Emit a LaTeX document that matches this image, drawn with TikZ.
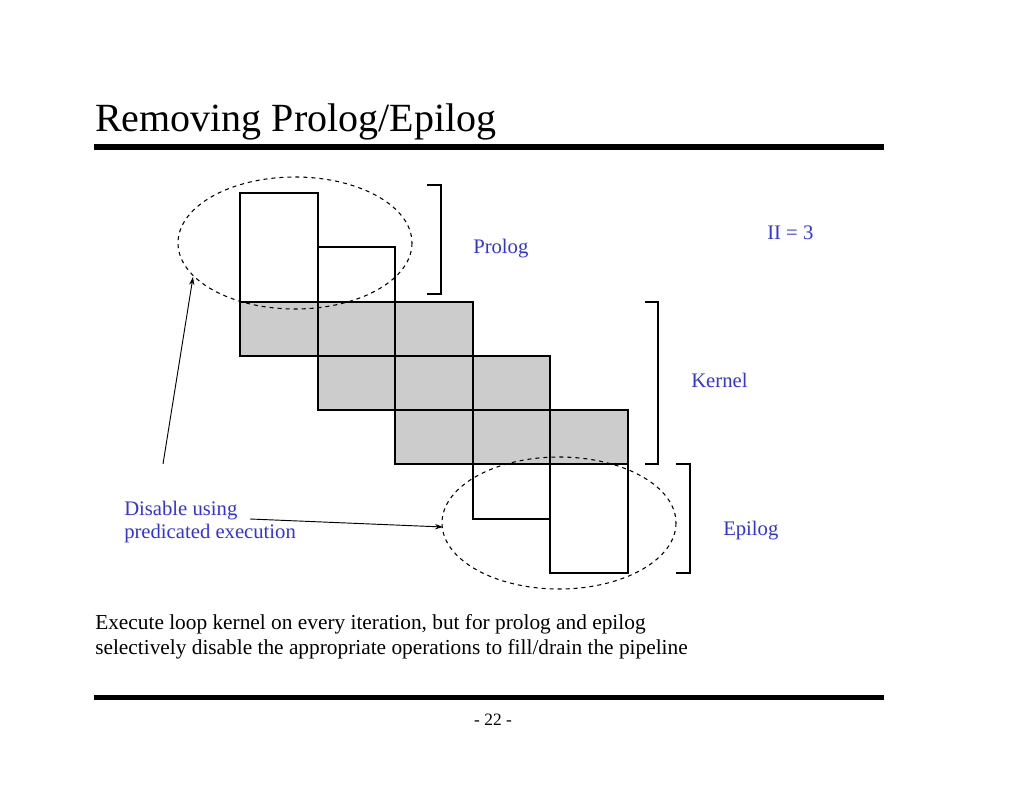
\documentclass[tikz,border=0pt]{standalone}
\usepackage{fontspec}
\setmainfont{Liberation Serif}
\usetikzlibrary{arrows.meta}
\definecolor{lblue}{RGB}{51,51,221}
\begin{document}
\begin{tikzpicture}[x=0.75pt,y=-0.75pt,
  cell/.style={draw,line width=1pt},
  gcell/.style={draw,line width=1pt,fill=black!20},
  ell/.style={draw,dashed,line width=0.8pt},
  brk/.style={draw,line width=1pt},
  lbl/.style={text=lblue,font=\fontsize{15.5}{18}\selectfont,anchor=west,inner sep=0pt},
  body/.style={font=\fontsize{16}{20}\selectfont,anchor=west,inner sep=0pt,align=left},
  arr/.style={draw,line width=0.7pt,-{Stealth[length=6pt,width=4pt]}}]
\useasboundingbox (0,0) rectangle (1024,791);
\node[anchor=west,inner sep=0pt,font=\fontsize{30}{34}\selectfont] (title) at (95,122) {Removing Prolog/Epilog};
\fill (94,144) rectangle (884,150);
% cells
\path[cell] (240,193) rectangle (318,302);
\path[cell] (318,247) rectangle (395,302);
\path[gcell] (240,302) rectangle (318,356);
\path[gcell] (318,302) rectangle (395,356);
\path[gcell] (395,302) rectangle (473,356);
\path[gcell] (318,356) rectangle (395,410);
\path[gcell] (395,356) rectangle (473,410);
\path[gcell] (473,356) rectangle (550,410);
\path[gcell] (395,410) rectangle (473,464);
\path[gcell] (473,410) rectangle (550,464);
\path[gcell] (550,410) rectangle (628,464);
\path[cell] (473,464) rectangle (550,519);
\path[cell] (550,464) rectangle (628,573);
% ellipses
\draw[ell] (295,243) ellipse [x radius=117,y radius=66];
\draw[ell] (559,523) ellipse [x radius=117,y radius=66];
\coordinate (pa) at (193,277);
\coordinate (ea) at (443,527);
% brackets
\path[brk] (427,185) -- (441,185) -- (441,294) -- (427,294);
\path[brk] (645,302) -- (658,302) -- (658,464) -- (645,464);
\path[brk] (676,464) -- (690,464) -- (690,573) -- (676,573);
% labels
\node[lbl] (pl) at (473,249) {Prolog};
\node[lbl] (kl) at (691,380) {Kernel};
\node[lbl] (el) at (723,531) {Epilog};
\node[lbl] (ii) at (767,233) {II = 3};
\node[lbl,align=left,anchor=north west] (dis) at (124,501) {Disable using\\[-1pt]predicated execution};
\coordinate (s1) at (163,464);
\coordinate (s2) at (250,519);
\path[arr] (s1) -- (pa);
\path[arr] (s2) -- (ea);
\node[body,anchor=north west] (bt) at (95,614) {Execute loop kernel on every iteration, but for prolog and epilog\\[-1pt]selectively disable the appropriate operations to fill/drain the pipeline};
\fill (94,695) rectangle (884,700);
\node[font=\fontsize{13}{15}\selectfont,inner sep=0pt] (pg) at (493,720) {- 22 -};
\end{tikzpicture}
\end{document}
